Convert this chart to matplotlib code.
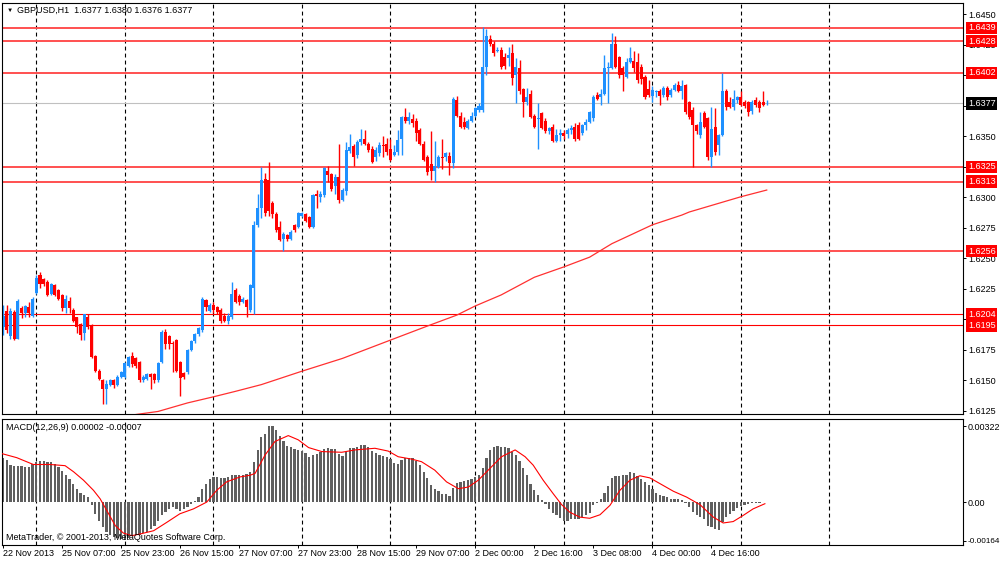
import numpy as np
import matplotlib
matplotlib.use("Agg")
import matplotlib.pyplot as plt

plt.rcParams['font.family'] = ['Liberation Sans', 'DejaVu Sans']

# GBPUSD H1 candles, in pips above 1.6000 (bar 0 = 22 Nov 2013 14:00)
opens = [194, 207, 186, 206, 184, 209, 205, 210, 203, 222,
         236, 233, 231, 221, 228, 224, 220, 209, 215, 208,
         202, 196, 189, 202, 195, 170, 158, 150, 143, 146,
         150, 146, 153, 153, 162, 170, 168, 165, 150, 151,
         155, 155, 150, 165, 190, 186, 181, 183, 165, 156,
         157, 175, 182, 188, 191, 216, 207, 212, 210, 208,
         203, 199, 202, 224, 219, 214, 216, 208, 226, 277,
         291, 315, 314, 295, 286, 276, 266, 269, 266, 277,
         276, 285, 286, 284, 276, 303, 300, 302, 322, 319,
         309, 317, 298, 305, 338, 342, 335, 345, 348, 344,
         340, 333, 336, 343, 344, 340, 335, 337, 348, 366,
         363, 364, 363, 355, 344, 333, 327, 322, 325, 333,
         333, 334, 328, 380, 367, 362, 357, 363, 367, 372,
         372, 407, 430, 426, 420, 421, 415, 414, 418, 400,
         406, 389, 378, 385, 367, 364, 369, 363, 354, 358,
         346, 351, 353, 352, 355, 358, 359, 353, 359, 362,
         365, 384, 382, 385, 406, 406, 426, 415, 406, 399,
         411, 412, 411, 407, 399, 389, 383, 386, 387, 384,
         390, 384, 388, 392, 387, 392, 378, 372, 359, 351,
         369, 365, 333, 358, 343, 351, 387, 378, 374, 380,
         382, 378, 378, 371, 380, 378, 378, 377]
highs = [212, 212, 209, 208, 217, 211, 212, 214, 218, 236,
         239, 234, 232, 230, 229, 225, 221, 220, 218, 209,
         202, 197, 204, 204, 196, 171, 159, 151, 150, 151,
         151, 154, 158, 165, 170, 173, 169, 166, 154, 156,
         156, 156, 165, 191, 192, 187, 182, 184, 166, 157,
         176, 183, 189, 194, 218, 217, 213, 214, 211, 209,
         205, 205, 231, 226, 221, 218, 217, 229, 281, 303,
         325, 320, 329, 297, 288, 281, 272, 270, 273, 278,
         288, 288, 287, 285, 303, 306, 305, 325, 326, 320,
         319, 344, 308, 345, 352, 344, 347, 356, 355, 345,
         342, 341, 345, 350, 349, 348, 343, 355, 367, 373,
         370, 368, 365, 357, 346, 335, 354, 346, 335, 348,
         337, 337, 382, 383, 370, 366, 364, 370, 374, 377,
         440, 438, 433, 428, 423, 423, 418, 423, 426, 414,
         413, 390, 390, 388, 368, 377, 370, 365, 358, 360,
         356, 356, 355, 357, 359, 361, 362, 360, 364, 371,
         384, 386, 389, 417, 411, 435, 432, 416, 408, 414,
         423, 420, 418, 409, 400, 396, 391, 388, 389, 391,
         391, 390, 394, 395, 396, 393, 379, 374, 360, 370,
         371, 366, 374, 373, 352, 402, 389, 382, 388, 383,
         387, 380, 379, 380, 382, 380, 387, 380]
lows = [187, 189, 184, 183, 184, 201, 202, 202, 202, 221,
        226, 227, 219, 220, 219, 216, 207, 205, 205, 198,
        189, 183, 183, 192, 168, 157, 150, 131, 131, 145,
        144, 145, 152, 152, 161, 161, 160, 149, 149, 150,
        143, 148, 149, 164, 176, 176, 157, 157, 137, 151,
        155, 174, 181, 186, 190, 207, 206, 205, 204, 197,
        198, 196, 200, 213, 212, 213, 202, 206, 204, 276,
        283, 285, 285, 283, 272, 264, 256, 264, 265, 272,
        275, 284, 280, 275, 275, 291, 296, 300, 313, 305,
        303, 295, 297, 302, 336, 326, 332, 343, 343, 337,
        328, 330, 334, 333, 335, 330, 334, 335, 335, 361,
        360, 358, 346, 343, 330, 318, 314, 313, 324, 323,
        330, 318, 324, 366, 357, 356, 356, 362, 366, 370,
        370, 400, 424, 416, 419, 405, 405, 408, 392, 377,
        385, 366, 376, 365, 357, 340, 356, 353, 352, 345,
        345, 346, 348, 349, 352, 346, 347, 351, 355, 361,
        363, 380, 376, 384, 377, 405, 406, 398, 387, 398,
        410, 403, 394, 393, 381, 382, 378, 382, 376, 382,
        380, 382, 387, 386, 381, 368, 364, 325, 352, 349,
        357, 331, 325, 335, 335, 350, 372, 373, 372, 377,
        375, 373, 367, 368, 374, 370, 375, 376]
closes = [203, 191, 207, 184, 215, 205, 211, 205, 217, 234,
          229, 229, 220, 229, 220, 217, 209, 217, 209, 199,
          194, 187, 204, 194, 169, 158, 151, 143, 147, 150,
          146, 153, 157, 164, 169, 163, 162, 150, 153, 155,
          153, 150, 164, 190, 180, 180, 180, 158, 152, 153,
          175, 182, 188, 193, 217, 210, 212, 208, 206, 199,
          199, 203, 221, 214, 214, 217, 210, 228, 277, 291,
          314, 287, 289, 286, 273, 265, 270, 266, 272, 273,
          287, 287, 281, 276, 302, 301, 303, 324, 318, 307,
          317, 298, 306, 339, 341, 333, 345, 348, 344, 339,
          329, 339, 343, 342, 337, 331, 337, 347, 366, 363,
          366, 361, 353, 344, 331, 321, 322, 326, 333, 332,
          336, 328, 381, 367, 358, 358, 363, 367, 373, 375,
          407, 432, 426, 418, 421, 407, 408, 417, 398, 407,
          387, 378, 382, 366, 358, 365, 357, 354, 357, 346,
          351, 353, 350, 355, 357, 348, 348, 359, 362, 370,
          382, 381, 385, 406, 407, 426, 407, 400, 400, 411,
          414, 406, 396, 397, 382, 384, 388, 387, 383, 390,
          382, 388, 392, 387, 391, 370, 366, 359, 354, 362,
          358, 333, 356, 337, 351, 387, 374, 374, 381, 382,
          376, 375, 370, 378, 376, 373, 376, 377]

# moving average line (bar index, pips)
ma_idx = [31, 36, 42, 50, 57, 63, 70, 81, 92, 105, 115, 123, 128, 135,
          144, 152, 159, 165, 176, 184, 186, 200, 207]
ma_val = [119, 122, 124.5, 131.5, 136.5, 141, 146.5, 157.5, 168, 183, 194.5,
          203.5, 211, 220, 234.5, 243, 251, 262, 277.5, 285.5, 288, 300.5, 306]

# MACD histogram, units of 0.00001
macd_hist = [186, 179, 157, 154, 153, 153, 150, 150, 160, 169,
             175, 176, 172, 169, 164, 150, 132, 114, 100, 79,
             57, 39, 31, 21, -14, -50, -79, -107, -129, -140,
             -150, -155, -157, -160, -155, -146, -140, -140, -132, -126,
             -114, -100, -80, -57, -43, -29, -21, -29, -36, -29,
             -21, -10, 5, 21, 55, 79, 97, 107, 107, 103,
             103, 106, 114, 117, 117, 117, 120, 126, 172, 222,
             275, 290, 322, 322, 308, 283, 258, 240, 233, 225,
             222, 217, 207, 193, 200, 205, 215, 226, 232, 226,
             226, 203, 197, 215, 229, 229, 236, 243, 243, 233,
             217, 210, 200, 197, 193, 183, 165, 160, 179, 186,
             186, 186, 175, 157, 129, 103, 74, 57, 46, 36,
             33, 26, 60, 82, 86, 89, 93, 97, 107, 114,
             146, 189, 222, 233, 239, 236, 236, 229, 212, 200,
             175, 143, 117, 79, 50, 29, 7, -7, -29, -46,
             -57, -69, -79, -79, -74, -72, -72, -64, -57, -46,
             -14, -3, 14, 40, 69, 103, 110, 112, 114, 117,
             126, 122, 112, 100, 86, 72, 57, 40, 31, 26,
             21, 14, 11, 11, 7, -3, -21, -43, -57, -64,
             -72, -100, -107, -114, -117, -83, -64, -50, -36, -26,
             -17, -12, -8, -6, -4, -2, -1, 2]

signal_idx = [-0.5, 3.7, 8.2, 12.7, 16.8, 19.1, 21.8, 24.5, 26.3, 28.1, 30.4,
              32.6, 34.9, 37.1, 40.8, 44.4, 47.9, 51.6, 55.2, 57.9, 60.6,
              64.2, 66.9, 68.3, 71, 73.7, 77.3, 80, 82.8, 86.4, 91.8, 95.4,
              100.8, 104.4, 107.1, 110.7, 113.4, 117, 120.2, 123.4, 126.1,
              128.8, 131.5, 135.1, 138.8, 141.5, 143.7, 146.4, 149.1, 151.4,
              153.6, 156.3, 159, 161.8, 164.5, 167.2, 169.9, 172.6, 175.3,
              178, 181.7, 185.3, 188.9, 192.5, 195.2, 197.9, 200.6, 203.3,
              206.5]
signal_val = [207, 189, 160, 160, 155, 129, 93, 50, 14, -36, -100,
              -132, -143, -136, -122, -86, -50, -29, 0, 50, 86,
              107, 114, 122, 200, 258, 283, 265, 232, 215, 212, 222,
              229, 217, 193, 183, 172, 136, 86, 57, 64,
              93, 136, 193, 222, 193, 157, 93, 36, -11,
              -43, -64, -69, -54, -14, 50, 93, 112, 103,
              79, 46, 21, -11, -64, -89, -83, -57, -29,
              -7]

levels = [1.6439, 1.6428, 1.6402, 1.6325, 1.6313, 1.6256, 1.6204, 1.6195]
thin_levels = [1.6204, 1.6195]
bid = 1.6377

day_lines = [9, 33, 57, 81, 105, 128, 152, 176, 200, 224]
time_ticks = [0, 16, 32, 48, 64, 80, 96, 112, 128, 144, 160, 176, 192]
time_labels = ["22 Nov 2013", "25 Nov 07:00", "25 Nov 23:00", "26 Nov 15:00",
               "27 Nov 07:00", "27 Nov 23:00", "28 Nov 15:00", "29 Nov 07:00",
               "2 Dec 00:00", "2 Dec 16:00", "3 Dec 08:00", "4 Dec 00:00",
               "4 Dec 16:00"]
price_ticks = [1.6125, 1.6150, 1.6175, 1.6200, 1.6225, 1.6250, 1.6275, 1.6300,
               1.6325, 1.6350, 1.6375, 1.6400, 1.6425, 1.6450]
macd_ticks = [0.00322, 0.0, -0.00164]
macd_tick_labels = ["0.00322", "0.00", "-0.00164"]

o = 1.6 + np.array(opens) / 10000
h = 1.6 + np.array(highs) / 10000
l = 1.6 + np.array(lows) / 10000
c = 1.6 + np.array(closes) / 10000
x = np.arange(len(o))

bull = '#1e90ff'
bear = '#ff0000'
fs = 6.5

fig = plt.figure(figsize=(10, 5.61), dpi=100)
ax = fig.add_axes([0.002, 0.262, 0.961, 0.7326])
ax2 = fig.add_axes([0.002, 0.0285, 0.961, 0.2246])

for a in (ax, ax2):
    a.set_xlim(-0.3, 260.2)
    for s in a.spines.values():
        s.set_color('black')
        s.set_linewidth(0.8)
    for d in day_lines:
        a.axvline(d, color='black', lw=0.8, ls=(0, (3.5, 2.8)), zorder=0.5)
    a.yaxis.tick_right()
    a.tick_params(axis='y', direction='out', length=2.2, width=0.7, pad=1.4,
                  labelsize=fs, colors='black')

# main price panel
ax.set_ylim(1.61224, 1.64593)
ax.tick_params(axis='x', bottom=False, labelbottom=False)
ax.set_yticks(price_ticks)
ax.set_yticklabels([f"{v:.4f}" for v in price_ticks])

ax.axhline(bid, color='#c0c0c0', lw=0.8, zorder=1)
for lv in levels:
    if lv in thin_levels:
        ax.axhline(lv, color='#ff0000', lw=0.8, zorder=1)
    else:
        ax.axhline(lv, color='#ff5050', lw=1.4, zorder=1)

colors = [bull if cc >= oo else bear for oo, cc in zip(o, c)]
ax.vlines(x, l, h, colors=colors, lw=1.0, zorder=2)
body = np.maximum(np.abs(c - o), 0.00004)
ax.bar(x, body, bottom=np.minimum(o, c), width=0.82, color=colors,
       linewidth=0, zorder=2)

ax.plot(ma_idx, 1.6 + np.array(ma_val) / 10000, color='#ff3030', lw=0.9, zorder=2)

ytr = ax.get_yaxis_transform()
for lv in levels:
    ax.text(1.0052, lv, f"{lv:.4f}", transform=ytr, ha='left', va='center',
            fontsize=fs, color='white', clip_on=False, zorder=5,
            bbox=dict(boxstyle='square,pad=0.18', fc='#ff0000', ec='none'))
ax.text(1.0052, bid, f"{bid:.4f}", transform=ytr, ha='left', va='center',
        fontsize=fs, color='white', clip_on=False, zorder=5,
        bbox=dict(boxstyle='square,pad=0.18', fc='black', ec='none'))

# MACD panel
ax2.set_ylim(-0.001828, 0.003536)
ax2.bar(x, np.array(macd_hist) * 1e-5, width=0.62, color='#5f5f5f', linewidth=0,
        zorder=2)
ax2.plot(signal_idx, np.array(signal_val) * 1e-5, color='#ff0000', lw=0.8, zorder=3)
ax2.set_yticks(macd_ticks)
ax2.set_yticklabels(macd_tick_labels)
ax2.get_yticklabels()[2].set_fontsize(5.9)
ax2.set_xticks(time_ticks)
ax2.set_xticklabels(time_labels, ha='left')
ax2.tick_params(axis='x', direction='out', length=2.2, width=0.7, pad=1.0,
                labelsize=fs, colors='black')

fig.text(7 / 1000, 1 - 10 / 561, "▼", fontsize=4.5, ha='left', va='center')
fig.text(17 / 1000, 1 - 10 / 561, "GBPUSD,H1  1.6377 1.6380 1.6376 1.6377",
         fontsize=fs, ha='left', va='center')
fig.text(6 / 1000, 1 - 427 / 561, "MACD(12,26,9) 0.00002 -0.00007",
         fontsize=fs, ha='left', va='center')
fig.text(6 / 1000, 1 - 538 / 561, "MetaTrader, © 2001-2013, MetaQuotes Software Corp.",
         fontsize=fs, ha='left', va='center')

fig.savefig("out.png", dpi=100)
